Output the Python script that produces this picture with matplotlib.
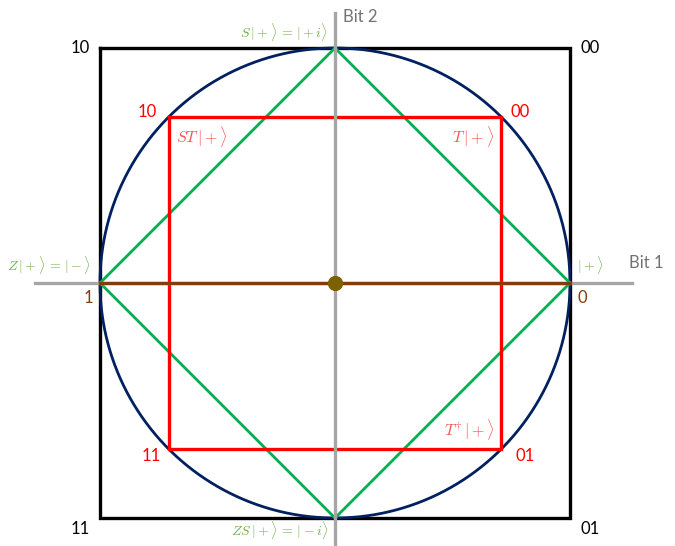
import numpy as np
import matplotlib.pyplot as plt

plt.rcParams['mathtext.fontset'] = 'cm'
plt.rcParams['font.family'] = ['Lato', 'DejaVu Sans']

# outer square (black), corner bit labels
outer_x = [-1, 1, 1, -1, -1]
outer_y = [1, 1, -1, -1, 1]
outer_labels = ['10', '00', '01', '11']
# green diamond: |+>, S|+>, Z|+>, ZS|+>
diamond_x = [1, 0, -1, 0, 1]
diamond_y = [0, 1, 0, -1, 0]
# red square: T states
r = np.sqrt(0.5)
red_x = [-r, r, r, -r, -r]
red_y = [r, r, -r, -r, r]
red_labels = ['10', '00', '01', '11']
red_states = [r'$ST\,|+\rangle$', r'$T\,|+\rangle$', r'$T^{\dagger}\,|+\rangle$']
green_states = [r'$S\,|+\rangle\,=\,|+i\rangle$', r'$Z\,|+\rangle\,=\,|-\rangle$',
                r'$|+\rangle$', r'$ZS\,|+\rangle\,=\,|-i\rangle$']

fig = plt.figure(figsize=(6.75, 5.46), dpi=100)
ax = fig.add_axes([0, 0, 1, 1])
ax.set_xlim(-335 / 235, 340 / 235)
ax.set_ylim(-263 / 235, 283 / 235)
ax.set_aspect('equal')
ax.axis('off')

ax.plot(outer_x, outer_y, color='black', lw=2.4, solid_joinstyle='miter', zorder=1)
t = np.linspace(0, 2 * np.pi, 400)
ax.plot(np.cos(t), np.sin(t), color='#002060', lw=2.0, zorder=2)
ax.plot(diamond_x, diamond_y, color='#00B050', lw=2.0, zorder=3)
ax.plot(red_x, red_y, color='#FF0000', lw=2.4, solid_joinstyle='miter', zorder=4)

# bit axes
ax.plot([-300 / 235, 297 / 235], [0, 0], color='#A6A6A6', lw=2.4, zorder=5)
ax.plot([0, 0], [270 / 235, -263 / 235], color='#A6A6A6', lw=2.4, zorder=5)
ax.plot([-1, 1], [0, 0], color='#843C0C', lw=2.4, zorder=6)
ax.plot([0], [0], 'o', color='#7F6000', ms=10, zorder=7)

ax.text(0.035, 1.13, 'Bit 2', color='#767171', fontsize=12, ha='left', va='center')
ax.text(1.25, 0.085, 'Bit 1', color='#767171', fontsize=12, ha='left', va='center')

# outer corner labels
ax.text(-1.045, 1.0, outer_labels[0], color='black', fontsize=12, ha='right', va='center')
ax.text(1.045, 1.0, outer_labels[1], color='black', fontsize=12, ha='left', va='center')
ax.text(1.045, -1.045, outer_labels[2], color='black', fontsize=12, ha='left', va='center')
ax.text(-1.045, -1.045, outer_labels[3], color='black', fontsize=12, ha='right', va='center')

# red corner labels
ax.text(-r - 0.05, r + 0.02, red_labels[0], color='#FF0000', fontsize=12, ha='right', va='center')
ax.text(r + 0.04, r + 0.02, red_labels[1], color='#FF0000', fontsize=12, ha='left', va='center')
ax.text(r + 0.06, -r - 0.03, red_labels[2], color='#FF0000', fontsize=12, ha='left', va='center')
ax.text(-r - 0.035, -r - 0.03, red_labels[3], color='#FF0000', fontsize=12, ha='right', va='center')

# red state labels
ax.text(-r + 0.03, r - 0.03, red_states[0], color='#FF5050', fontsize=11.5, ha='left', va='top')
ax.text(r - 0.03, r - 0.03, red_states[1], color='#FF5050', fontsize=11.5, ha='right', va='top')
ax.text(r - 0.03, -r + 0.03, red_states[2], color='#FF5050', fontsize=11.5, ha='right', va='bottom')

# green state labels
ax.text(-0.03, 1.02, green_states[0], color='#70AD47', fontsize=10, ha='right', va='bottom')
ax.text(-1.04, 0.03, green_states[1], color='#70AD47', fontsize=10, ha='right', va='bottom')
ax.text(1.03, 0.03, green_states[2], color='#70AD47', fontsize=10, ha='left', va='bottom')
ax.text(-0.03, -1.05, green_states[3], color='#70AD47', fontsize=10, ha='right', va='center')

# bit 1 values
ax.text(-1.03, -0.03, '1', color='#843C0C', fontsize=12, ha='right', va='top')
ax.text(1.03, -0.03, '0', color='#843C0C', fontsize=12, ha='left', va='top')

fig.savefig('out.png', dpi=100)
